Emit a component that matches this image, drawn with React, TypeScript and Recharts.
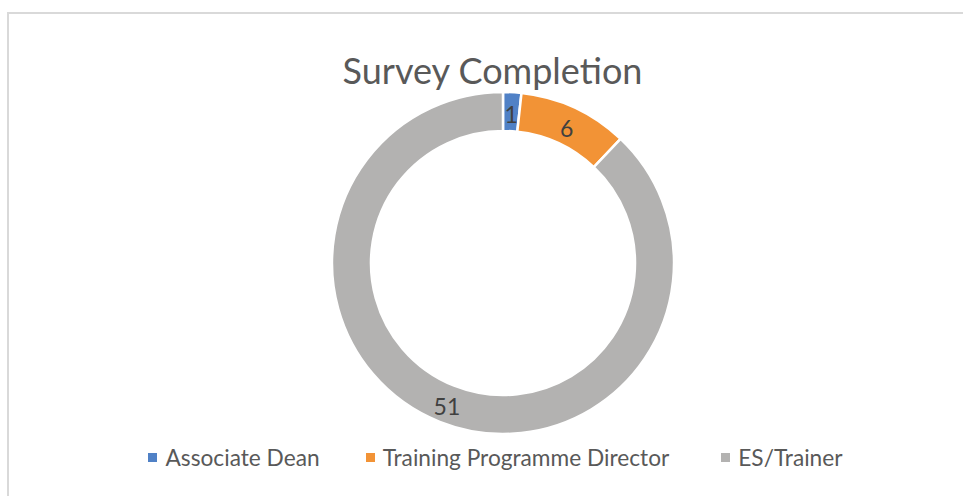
import { PieChart, Pie, Cell, Legend } from 'recharts';

const roles = ['Associate Dean', 'Training Programme Director', 'ES/Trainer'];
const counts = [1, 6, 51];
const colors = ['#5081C6', '#F29336', '#B3B2B1'];

const data = roles.map((name, i) => ({ name, value: counts[i] }));

const FONT = 'Lato, "Open Sans", sans-serif';

// value label sits in the middle of the ring
const renderLabel = (props: any) => {
  const { cx, cy, midAngle, innerRadius, outerRadius, value } = props;
  const r = (innerRadius + outerRadius) / 2;
  const rad = (Math.PI / 180) * midAngle;
  const x = cx + r * Math.cos(rad);
  const y = cy - r * Math.sin(rad) + 2;
  return (
    <text x={x} y={y} fill="#404040" fontSize={23} fontFamily={FONT} textAnchor="middle" dominantBaseline="central">
      {value}
    </text>
  );
};

const renderLegend = (props: any) => {
  // keep the legend in data order (recharts sorts by name otherwise)
  const payload = [...(props.payload || [])].sort(
    (a: any, b: any) => roles.indexOf(a.value) - roles.indexOf(b.value)
  );
  return (
    <div style={{ display: 'flex', justifyContent: 'center', gap: 46, fontFamily: FONT, fontSize: 22.7, color: '#595959' }}>
      {payload.map((entry: any, i: number) => (
        <div key={entry.value} style={{ display: 'flex', alignItems: 'center', marginLeft: i === 2 ? 6 : 0 }}>
          <span style={{ width: 9, height: 9, background: entry.color, marginRight: 8, display: 'inline-block' }} />
          <span>{entry.value}</span>
        </div>
      ))}
    </div>
  );
};

export default function App() {
  return (
    <div style={{ position: 'fixed', left: 0, top: 0, width: 963, height: 496, background: '#fff', overflow: 'hidden' }}>
      <div style={{ position: 'absolute', left: 7, top: 12, width: 980, height: 500, border: '2px solid #D9D9D9', boxSizing: 'border-box' }} />
      <div style={{ position: 'absolute', left: 0, top: 46, width: 985, textAlign: 'center', fontFamily: FONT, fontSize: 36, color: '#595959', lineHeight: '48px' }}>
        Survey Completion
      </div>
      <div style={{ position: 'absolute', left: 0, top: 0 }}>
        <PieChart width={963} height={496} margin={{ top: 0, right: 0, bottom: 0, left: 0 }}>
          <Pie
            data={data}
            dataKey="value"
            nameKey="name"
            cx={503}
            cy={263}
            innerRadius={132}
            outerRadius={171}
            startAngle={90}
            endAngle={-270}
            stroke="#ffffff"
            strokeWidth={2.5}
            label={renderLabel}
            labelLine={false}
            isAnimationActive={false}
          >
            {data.map((d, i) => (
              <Cell key={d.name} fill={colors[i]} />
            ))}
          </Pie>
          <Legend
            content={renderLegend}
            wrapperStyle={{ position: 'absolute', top: 444, left: 14, width: 963 }}
          />
        </PieChart>
      </div>
    </div>
  );
}
